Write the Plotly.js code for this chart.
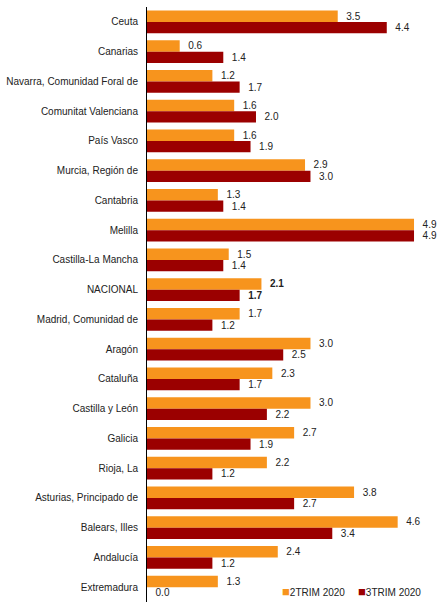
<!DOCTYPE html>
<html>
<head>
<meta charset="utf-8">
<script src="https://cdn.plot.ly/plotly-3.0.1.min.js"></script>
<style>html,body{margin:0;padding:0;background:#fff;}#chart{width:442px;height:611px;}</style>
</head>
<body>
<div id="chart"></div>
<script>
const categories = ["Ceuta","Canarias","Navarra, Comunidad Foral de","Comunitat Valenciana","País Vasco","Murcia, Región de","Cantabria","Melilla","Castilla-La Mancha","NACIONAL","Madrid, Comunidad de","Aragón","Cataluña","Castilla y León","Galicia","Rioja, La","Asturias, Principado de","Balears, Illes","Andalucía","Extremadura"];
const trim2 = [3.5,0.6,1.2,1.6,1.6,2.9,1.3,4.9,1.5,2.1,1.7,3.0,2.3,3.0,2.7,2.2,3.8,4.6,2.4,1.3];
const trim3 = [4.4,1.4,1.7,2.0,1.9,3.0,1.4,4.9,1.4,1.7,1.2,2.5,1.7,2.2,1.9,1.2,2.7,3.4,1.2,0.0];
const seriesNames = ["2TRIM 2020","3TRIM 2020"];
const colors = ["#F7941D","#9B0000"];

function labels(vals){
  return vals.map((v,i)=>{
    const s = v.toFixed(1);
    return categories[i]==="NACIONAL" ? "<b>"+s+"</b>" : s;
  });
}

const data = [trim2, trim3].map((vals,k)=>({
  type:"bar", orientation:"h",
  x: vals, y: categories,
  name: seriesNames[k],
  marker:{color:colors[k]},
  text: labels(vals),
  texttemplate:"  %{text}",
  textposition:"outside",
  cliponaxis:false,
  constraintext:"none",
  textfont:{family:"Liberation Sans, Arial, sans-serif", size:10, color:"#222"},
  showlegend:false,
  hoverinfo:"skip"
}));

const legendX = [0.4667, 0.7333];
const annotations = seriesNames.map((n,k)=>({
  xref:"paper", yref:"paper", x:legendX[k], y:0.017, xanchor:"left", yanchor:"middle",
  showarrow:false,
  text:'<span style="color:'+colors[k]+';font-size:13px">■</span>'+n,
  font:{family:"Liberation Sans, Arial, sans-serif", size:10, color:"#222"}
}));

const layout = {
  width:442, height:611,
  margin:{l:147, r:10, t:7, b:9},
  paper_bgcolor:"#fff", plot_bgcolor:"#fff",
  barmode:"group", bargap:0.23, bargroupgap:0,
  font:{family:"Liberation Sans, Arial, sans-serif", size:10, color:"#222"},
  xaxis:{range:[0,5.23], autorange:false, showticklabels:false, showgrid:false, zeroline:false,
    showline:false, ticks:"", fixedrange:true},
  yaxis:{type:"category", autorange:"reversed", showline:true, linecolor:"#000", linewidth:1,
    ticks:"", showgrid:false, zeroline:false, ticklabelstandoff:6,
    tickfont:{size:10, color:"#222"}},
  showlegend:false,
  annotations: annotations
};
Plotly.newPlot("chart", data, layout, {displayModeBar:false, staticPlot:true});
</script>
</body>
</html>
